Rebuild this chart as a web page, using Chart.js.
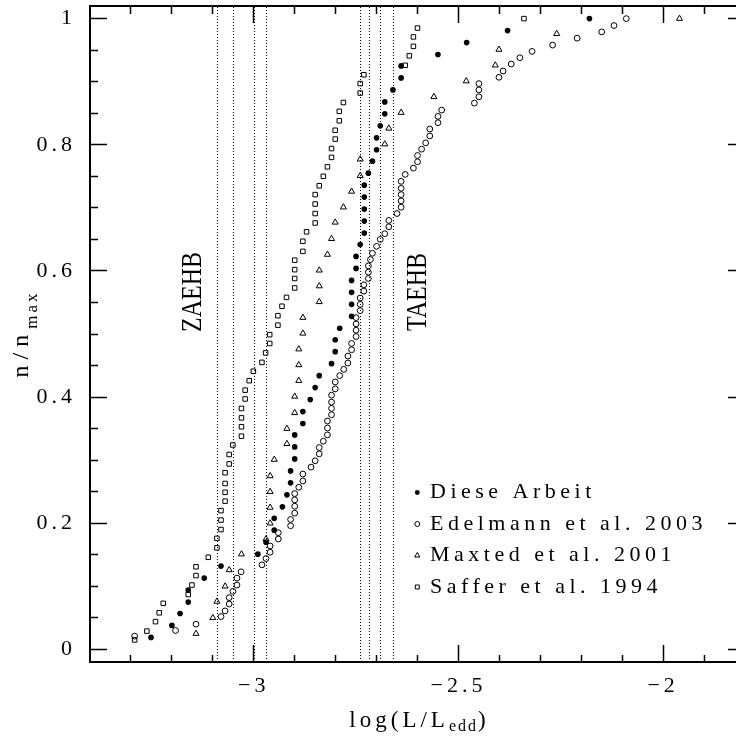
<!DOCTYPE html>
<html>
<head>
<meta charset="utf-8">
<script src="https://cdn.jsdelivr.net/npm/chart.js@4.4.1/dist/chart.umd.min.js"></script>
<style>
  html, body { margin: 0; padding: 0; overflow: hidden; background: #fff; }
  #wrap { width: 736px; height: 737px; overflow: hidden; position: relative; }
</style>
</head>
<body>
<div id="wrap"><canvas id="c" width="750" height="737" style="width:750px;height:737px"></canvas></div>
<script>
// ---- axis ranges and ticks ----
const X_MIN = -3.4, X_MAX = -1.8, Y_MIN = -0.02, Y_MAX = 1.02;
const X_TICKS = [-3, -2.5, -2];
const X_TICK_LABELS = ['\u22123', '\u22122.5', '\u22122'];
const Y_TICKS = [0, 0.2, 0.4, 0.6, 0.8, 1];
const Y_TICK_LABELS = ['0', '0.2', '0.4', '0.6', '0.8', '1'];
// all tick-mark positions (major + minor), drawn inward
const X_MARKS = [-3.3, -3.2, -3.1, -3.0, -2.9, -2.8, -2.7, -2.6, -2.5, -2.4, -2.3, -2.2, -2.1, -2.0, -1.9];
const Y_MARKS = [0, 0.05, 0.1, 0.15, 0.2, 0.25, 0.3, 0.35, 0.4, 0.45, 0.5, 0.55, 0.6, 0.65, 0.7, 0.75, 0.8, 0.85, 0.9, 0.95, 1];

// vertical dotted model lines (ZAEHB group and TAEHB group)
const MODEL_LINES = [-3.09, -3.05, -3.00, -2.971, -2.740, -2.719, -2.691, -2.660];
const LINE_LABELS = ['ZAEHB', 'TAEHB'];

const SERIES_NAMES = ['Diese Arbeit', 'Edelmann et al. 2003', 'Maxted et al. 2001', 'Saffer et al. 1994'];

// ---- data: Diese Arbeit (filled circles) ----
const dieseX = [-3.251, -3.200, -3.180, -3.160, -3.160, -3.121, -3.080, -2.990, -2.970, -2.950,
  -2.950, -2.930, -2.919, -2.910, -2.910, -2.900, -2.900, -2.900, -2.880, -2.880,
  -2.862, -2.850, -2.840, -2.810, -2.801, -2.801, -2.790, -2.761, -2.761, -2.761,
  -2.761, -2.750, -2.750, -2.740, -2.730, -2.730, -2.730, -2.730, -2.730, -2.720,
  -2.710, -2.700, -2.700, -2.691, -2.680, -2.680, -2.660, -2.640, -2.640, -2.550,
  -2.480, -2.380, -2.180];
const dieseY = [0.019, 0.038, 0.057, 0.075, 0.094, 0.113, 0.132, 0.151, 0.170, 0.189,
  0.208, 0.226, 0.245, 0.264, 0.283, 0.302, 0.321, 0.340, 0.358, 0.377,
  0.396, 0.415, 0.434, 0.453, 0.472, 0.491, 0.509, 0.528, 0.547, 0.566,
  0.585, 0.604, 0.623, 0.642, 0.660, 0.679, 0.698, 0.717, 0.736, 0.755,
  0.774, 0.792, 0.811, 0.830, 0.849, 0.868, 0.887, 0.906, 0.925, 0.943,
  0.962, 0.981, 1.000];

// ---- data: Edelmann et al. 2003 (open circles) ----
const edelX = [-3.291, -3.191, -3.141, -3.080, -3.070, -3.060, -3.060, -3.051, -3.041, -3.041,
  -3.031, -2.980, -2.970, -2.960, -2.960, -2.940, -2.940, -2.910, -2.910, -2.900,
  -2.900, -2.900, -2.900, -2.890, -2.880, -2.880, -2.860, -2.850, -2.840, -2.840,
  -2.830, -2.820, -2.820, -2.820, -2.810, -2.810, -2.810, -2.810, -2.801, -2.801,
  -2.790, -2.780, -2.770, -2.770, -2.761, -2.761, -2.750, -2.750, -2.750, -2.750,
  -2.740, -2.740, -2.740, -2.731, -2.731, -2.720, -2.720, -2.720, -2.715, -2.710,
  -2.700, -2.691, -2.680, -2.670, -2.670, -2.650, -2.640, -2.640, -2.640, -2.640,
  -2.640, -2.630, -2.610, -2.600, -2.600, -2.590, -2.580, -2.570, -2.570, -2.550,
  -2.550, -2.541, -2.461, -2.450, -2.450, -2.450, -2.401, -2.391, -2.371, -2.350,
  -2.320, -2.270, -2.210, -2.150, -2.120, -2.090];
const edelY = [0.021, 0.030, 0.040, 0.052, 0.061, 0.072, 0.082, 0.092, 0.102, 0.113,
  0.123, 0.134, 0.144, 0.154, 0.164, 0.175, 0.185, 0.196, 0.206, 0.216,
  0.227, 0.237, 0.247, 0.257, 0.267, 0.278, 0.289, 0.299, 0.310, 0.320,
  0.330, 0.340, 0.351, 0.362, 0.372, 0.382, 0.392, 0.403, 0.413, 0.424,
  0.434, 0.444, 0.454, 0.465, 0.475, 0.485, 0.496, 0.506, 0.516, 0.526,
  0.537, 0.547, 0.557, 0.568, 0.578, 0.588, 0.598, 0.608, 0.618, 0.628,
  0.639, 0.650, 0.659, 0.670, 0.680, 0.691, 0.701, 0.711, 0.721, 0.731,
  0.742, 0.753, 0.763, 0.773, 0.783, 0.793, 0.803, 0.814, 0.825, 0.835,
  0.845, 0.855, 0.866, 0.876, 0.887, 0.897, 0.907, 0.917, 0.928, 0.938,
  0.948, 0.958, 0.969, 0.979, 0.989, 1.000];

// ---- data: Maxted et al. 2001 (open triangles) ----
const maxtedX = [-3.141, -3.100, -3.090, -3.070, -3.060, -3.030, -2.970, -2.960, -2.960, -2.960,
  -2.960, -2.950, -2.919, -2.919, -2.900, -2.900, -2.890, -2.890, -2.890, -2.880,
  -2.880, -2.840, -2.840, -2.840, -2.820, -2.810, -2.801, -2.781, -2.761, -2.740,
  -2.740, -2.680, -2.670, -2.640, -2.560, -2.481, -2.410, -2.401, -2.260, -1.960];
const maxtedY = [0.025, 0.050, 0.076, 0.100, 0.126, 0.151, 0.175, 0.200, 0.225, 0.250,
  0.275, 0.301, 0.326, 0.350, 0.375, 0.401, 0.426, 0.451, 0.476, 0.501,
  0.526, 0.551, 0.576, 0.601, 0.626, 0.651, 0.677, 0.701, 0.726, 0.751,
  0.777, 0.801, 0.826, 0.851, 0.876, 0.901, 0.926, 0.951, 0.976, 1.000];

// ---- data: Saffer et al. 1994 (open squares) ----
const safferX = [-3.291, -3.261, -3.240, -3.231, -3.221, -3.160, -3.151, -3.141, -3.141, -3.111,
  -3.090, -3.090, -3.080, -3.080, -3.080, -3.070, -3.070, -3.070, -3.070, -3.060,
  -3.060, -3.051, -3.030, -3.030, -3.030, -3.030, -3.021, -3.021, -3.011, -3.001,
  -2.980, -2.971, -2.961, -2.961, -2.941, -2.941, -2.931, -2.920, -2.900, -2.900,
  -2.900, -2.900, -2.880, -2.880, -2.871, -2.850, -2.850, -2.850, -2.850, -2.840,
  -2.830, -2.820, -2.810, -2.810, -2.801, -2.801, -2.791, -2.791, -2.781, -2.740,
  -2.740, -2.731, -2.630, -2.620, -2.610, -2.610, -2.600, -2.340];
const safferY = [0.015, 0.029, 0.044, 0.058, 0.073, 0.087, 0.102, 0.117, 0.131, 0.146,
  0.161, 0.176, 0.190, 0.205, 0.220, 0.235, 0.249, 0.263, 0.280, 0.294,
  0.309, 0.324, 0.338, 0.353, 0.367, 0.382, 0.397, 0.411, 0.426, 0.441,
  0.455, 0.470, 0.485, 0.499, 0.514, 0.529, 0.544, 0.558, 0.573, 0.588,
  0.602, 0.617, 0.631, 0.647, 0.662, 0.676, 0.691, 0.706, 0.721, 0.735,
  0.750, 0.765, 0.780, 0.794, 0.809, 0.823, 0.838, 0.853, 0.867, 0.882,
  0.897, 0.911, 0.926, 0.941, 0.956, 0.971, 0.985, 1.000];

function pts(xs, ys) { return xs.map((x, i) => ({ x: x, y: ys[i] })); }

const SERIF = '"Liberation Serif", "DejaVu Serif", serif';
const MAJOR_LEN = 17, MINOR_LEN = 8;

function findIdx(list, v) {
  for (let i = 0; i < list.length; i++) if (Math.abs(list[i] - v) < 1e-6) return i;
  return -1;
}
function noScalePadding(s) {
  s.paddingTop = 0; s.paddingBottom = 0; s.paddingLeft = 0; s.paddingRight = 0;
}
// dash patterns that shorten minor tick marks so they stay attached to the frame
function dashFromAxis(majors) {
  return (c) => (c.tick && findIdx(majors, c.tick.value) >= 0) ? [] : [MINOR_LEN, 100];
}
function dashToAxis(majors) {
  return (c) => (c.tick && findIdx(majors, c.tick.value) >= 0) ? [] : [0, MAJOR_LEN - MINOR_LEN, MINOR_LEN, 100];
}
function gridOpts(dashFn) {
  return {
    display: true, drawOnChartArea: false, drawTicks: true,
    tickLength: -MAJOR_LEN, tickWidth: 1.5, tickColor: '#000',
    tickBorderDash: dashFn
  };
}
const BORDER = { display: true, color: '#000', width: 2 };

function drawMarker(ctx, kind, x, y) {
  ctx.save();
  ctx.lineWidth = 1;
  ctx.strokeStyle = '#000';
  ctx.fillStyle = '#000';
  ctx.beginPath();
  if (kind === 0) { ctx.arc(x, y, 2.4, 0, Math.PI * 2); ctx.fill(); }
  else if (kind === 1) { ctx.arc(x, y, 2.5, 0, Math.PI * 2); ctx.stroke(); }
  else if (kind === 2) {
    const r = 3.0;
    ctx.moveTo(x, y - r); ctx.lineTo(x + r * 0.866, y + r * 0.5); ctx.lineTo(x - r * 0.866, y + r * 0.5); ctx.closePath(); ctx.stroke();
  } else { ctx.rect(x - 2, y - 2, 4, 4); ctx.stroke(); }
  ctx.restore();
}

const decorPlugin = {
  id: 'decor',
  beforeDraw(chart) {
    chart.ctx.letterSpacing = '4px';
  },
  beforeDatasetsDraw(chart) {
    const c = chart.ctx, a = chart.chartArea, sx = chart.scales.x;
    c.save();
    c.fillStyle = '#000';
    MODEL_LINES.forEach(v => {
      const px = Math.round(sx.getPixelForValue(v));
      for (let yy = Math.ceil(a.top) + 1; yy < a.bottom; yy += 3) {
        c.fillRect(px, yy, 1, 1);
      }
    });
    c.restore();
  },
  afterDraw(chart) {
    const c = chart.ctx, a = chart.chartArea;
    c.save();
    c.letterSpacing = '0px';
    c.fillStyle = '#000';

    // ZAEHB / TAEHB rotated labels
    const lblPos = [[193, 292], [418, 292]];
    LINE_LABELS.forEach((t, i) => {
      c.save();
      c.translate(lblPos[i][0], lblPos[i][1]);
      c.rotate(-Math.PI / 2);
      c.scale(0.8, 1);
      c.font = '30px ' + SERIF;
      c.textAlign = 'center';
      c.textBaseline = 'middle';
      c.fillText(t, 0, 0);
      c.restore();
    });

    // legend
    c.letterSpacing = '4.5px';
    c.font = '22px ' + SERIF;
    c.textAlign = 'left';
    c.textBaseline = 'alphabetic';
    const base = [498, 529.5, 561, 592.5];
    SERIES_NAMES.forEach((n, i) => {
      c.fillText(n, 430, base[i]);
      drawMarker(c, i, 417.3, base[i] - 5.5);
    });

    // x axis title: log(L/L_edd)
    const xt1 = 'log(L/L';
    const cx = (a.left + a.right) / 2;
    c.font = '23px ' + SERIF; c.letterSpacing = '4px';
    const w1 = c.measureText(xt1).width;
    c.font = '16px ' + SERIF; c.letterSpacing = '2px';
    const w2 = c.measureText('edd').width;
    c.font = '23px ' + SERIF; c.letterSpacing = '0px';
    const w3 = c.measureText(')').width;
    const tx = cx - (w1 + w2 + w3) / 2;
    c.font = '23px ' + SERIF; c.letterSpacing = '4px';
    c.fillText(xt1, tx, 727);
    c.font = '16px ' + SERIF; c.letterSpacing = '2px';
    c.fillText('edd', tx + w1, 731);
    c.font = '23px ' + SERIF; c.letterSpacing = '0px';
    c.fillText(')', tx + w1 + w2, 727);

    // y axis title: n/n_max
    const cy = (a.top + a.bottom) / 2;
    c.font = '24px ' + SERIF; c.letterSpacing = '6px';
    const m1 = c.measureText('n/n').width;
    c.font = '17px ' + SERIF; c.letterSpacing = '3px';
    const m2 = c.measureText('max').width;
    c.save();
    c.translate(28, cy + (m1 + m2) / 2);
    c.rotate(-Math.PI / 2);
    c.font = '24px ' + SERIF; c.letterSpacing = '6px';
    c.fillText('n/n', 0, 0);
    c.font = '17px ' + SERIF; c.letterSpacing = '3px';
    c.fillText('max', m1, 9);
    c.restore();

    c.restore();
  }
};

const ctx = document.getElementById('c').getContext('2d');
new Chart(ctx, {
  type: 'scatter',
  data: {
    datasets: [
      { label: SERIES_NAMES[0], data: pts(dieseX, dieseY), pointStyle: 'circle', pointRadius: 2.8,
        backgroundColor: '#000', borderColor: '#000', borderWidth: 0 },
      { label: SERIES_NAMES[1], data: pts(edelX, edelY), pointStyle: 'circle', pointRadius: 2.9,
        backgroundColor: 'rgba(0,0,0,0)', borderColor: '#000', borderWidth: 1 },
      { label: SERIES_NAMES[2], data: pts(maxtedX, maxtedY), pointStyle: 'triangle', pointRadius: 3.5,
        backgroundColor: 'rgba(0,0,0,0)', borderColor: '#000', borderWidth: 1 },
      { label: SERIES_NAMES[3], data: pts(safferX, safferY), pointStyle: 'rect', pointRadius: 3.2,
        backgroundColor: 'rgba(0,0,0,0)', borderColor: '#000', borderWidth: 1 }
    ]
  },
  options: {
    responsive: false,
    devicePixelRatio: 1,
    animation: false,
    layout: { autoPadding: false, padding: { left: 0, top: 6, right: 5, bottom: 0 } },
    plugins: { legend: { display: false }, tooltip: { enabled: false } },
    elements: { point: { hoverRadius: 3 } },
    scales: {
      x: {
        type: 'linear', position: 'bottom', min: X_MIN, max: X_MAX,
        grid: gridOpts(dashFromAxis(X_TICKS)),
        border: BORDER,
        afterBuildTicks: (s) => { s.ticks = X_MARKS.map(v => ({ value: v })); },
        afterFit: (s) => { s.height = 75; noScalePadding(s); },
        ticks: {
          color: '#000', padding: 28, maxRotation: 0, minRotation: 0, autoSkip: false,
          font: { family: SERIF, size: 22 },
          callback: (v) => { const k = findIdx(X_TICKS, v); return k >= 0 ? X_TICK_LABELS[k] : ''; }
        }
      },
      xTop: {
        type: 'linear', position: 'top', min: X_MIN, max: X_MAX, display: true,
        grid: gridOpts(dashToAxis(X_TICKS)),
        border: BORDER,
        afterBuildTicks: (s) => { s.ticks = X_MARKS.map(v => ({ value: v })); },
        afterFit: (s) => { s.height = 0; noScalePadding(s); },
        ticks: { display: false, autoSkip: false }
      },
      y: {
        type: 'linear', position: 'left', min: Y_MIN, max: Y_MAX,
        grid: gridOpts(dashToAxis(Y_TICKS)),
        border: BORDER,
        afterBuildTicks: (s) => { s.ticks = Y_MARKS.map(v => ({ value: v })); },
        afterFit: (s) => { s.width = 90; noScalePadding(s); },
        ticks: {
          color: '#000', padding: 31, autoSkip: false,
          font: { family: SERIF, size: 22 },
          callback: (v) => { const k = findIdx(Y_TICKS, v); return k >= 0 ? Y_TICK_LABELS[k] : ''; }
        }
      },
      yRight: {
        type: 'linear', position: 'right', min: Y_MIN, max: Y_MAX, display: true,
        grid: gridOpts(dashFromAxis(Y_TICKS)),
        border: BORDER,
        afterBuildTicks: (s) => { s.ticks = Y_MARKS.map(v => ({ value: v })); },
        afterFit: (s) => { s.width = 0; noScalePadding(s); },
        ticks: { display: false, autoSkip: false }
      }
    }
  },
  plugins: [decorPlugin]
});
</script>
</body>
</html>
